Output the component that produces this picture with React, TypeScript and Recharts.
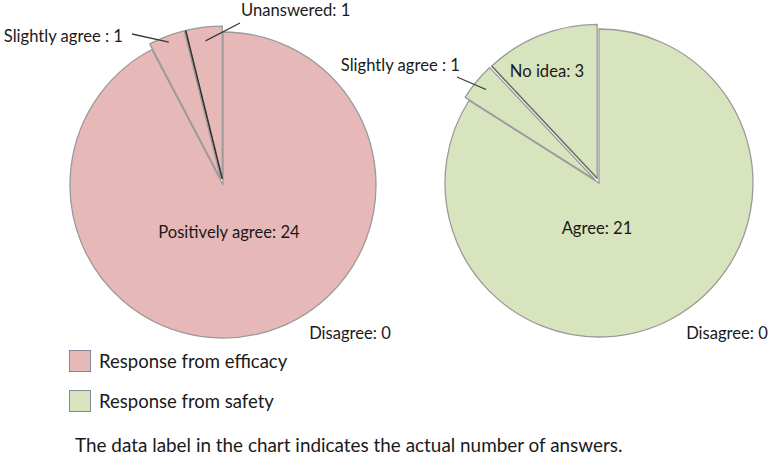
import React from 'react';
import { PieChart, Pie, Cell, Sector, Legend } from 'recharts';

// ---------- data ----------
const efficacyNames = ['Positively agree', 'Disagree', 'Slightly agree ', 'Unanswered'];
const efficacyValues = [24, 0, 1, 1];
const safetyNames = ['Agree', 'Disagree', 'Slightly agree ', 'No idea'];
const safetyValues = [21, 0, 1, 3];
const seriesNames = ['Response from efficacy', 'Response from safety'];
const footnote = 'The data label in the chart indicates the actual number of answers.';

const efficacyData = efficacyNames.map((name, i) => ({ name, value: efficacyValues[i] }));
const safetyData = safetyNames.map((name, i) => ({ name, value: safetyValues[i] }));

// ---------- style ----------
const COLORS = ['#e6b9b8', '#d7e4bd'];
const STROKE = '#9a9a9a';
const FONT = 'Lato, "Open Sans", sans-serif';
const TEXT = '#1a1a1a';
const RAD = Math.PI / 180;

const efficacyExplode = [0, 0, 6, 6];
const safetyExplode = [0, 0, 5, 5];
// slices whose start edge is drawn as a dark line
const efficacyDarkEdge = [false, false, false, true];
const safetyDarkEdge = [false, false, false, true];

type LabelLayout = {
  dx: number;
  dy: number;
  anchor: 'start' | 'middle' | 'end';
  leader?: { sx: number; sy: number; f: number };
};

const efficacyLabels: LabelLayout[] = [
  { dx: 6, dy: 47, anchor: 'middle' },
  { dx: 127, dy: 148, anchor: 'middle' },
  { dx: -100, dy: -149, anchor: 'end', leader: { sx: -91, sy: -151, f: 0.96 } },
  { dx: 18, dy: -175, anchor: 'start', leader: { sx: 17, sy: -162, f: 0.91 } },
];
const safetyLabels: LabelLayout[] = [
  { dx: -2, dy: 45, anchor: 'middle' },
  { dx: 128, dy: 150, anchor: 'middle' },
  { dx: -139, dy: -118, anchor: 'end', leader: { sx: -142, sy: -106, f: 0.92 } },
  { dx: -52, dy: -112, anchor: 'middle' },
];

const makeShape = (names: string[], explode: number[], darkEdge: boolean[], darkColor: string) => (props: any) => {
  const { cx, cy, startAngle, endAngle, outerRadius } = props;
  if (startAngle === endAngle) return <g />;
  const nm = props.payload?.name ?? props.name;
  const idx = names.indexOf(nm);
  const off = idx >= 0 ? explode[idx] : 0;
  const mid = (startAngle + endAngle) / 2;
  const ncx = cx + off * Math.cos(-mid * RAD);
  const ncy = cy + off * Math.sin(-mid * RAD);
  return (
    <g>
      <Sector {...props} cx={ncx} cy={ncy} />
      {idx >= 0 && darkEdge[idx] ? (
        <line
          x1={ncx}
          y1={ncy}
          x2={ncx + outerRadius * Math.cos(-startAngle * RAD)}
          y2={ncy + outerRadius * Math.sin(-startAngle * RAD)}
          stroke={darkColor}
          strokeWidth={1.5}
        />
      ) : null}
    </g>
  );
};

const makeLabel = (names: string[], layout: LabelLayout[], explode: number[]) => (props: any) => {
  const { cx, cy, outerRadius, startAngle, endAngle, value } = props;
  const nm = props.payload?.name ?? props.name;
  const idx = names.indexOf(nm);
  if (idx < 0) return <g />;
  const l = layout[idx];
  const mid = props.midAngle ?? (startAngle + endAngle) / 2;
  let line = null;
  if (l.leader) {
    const r = outerRadius * l.leader.f + explode[idx];
    const ex = cx + r * Math.cos(-mid * RAD);
    const ey = cy + r * Math.sin(-mid * RAD);
    line = (
      <line x1={cx + l.leader.sx} y1={cy + l.leader.sy} x2={ex} y2={ey} stroke="#3a3a3a" strokeWidth={1.3} />
    );
  }
  return (
    <g>
      {line}
      <text
        x={cx + l.dx}
        y={cy + l.dy}
        textAnchor={l.anchor}
        dominantBaseline="central"
        fill={TEXT}
        fontFamily={FONT}
        fontSize={16.6}
        style={{ whiteSpace: 'pre' }}
      >
        {`${nm}: ${value}`}
      </text>
    </g>
  );
};

const LegendContent = () => (
  <div style={{ fontFamily: FONT, color: TEXT, fontSize: 18.5 }}>
    {seriesNames.map((s, i) => (
      <div key={s} style={{ display: 'flex', alignItems: 'center', height: 40 }}>
        <span
          style={{
            display: 'inline-block',
            width: 20,
            height: 20,
            background: COLORS[i],
            border: '1.5px solid #80859a',
            marginRight: 8,
          }}
        />
        <span>{s}</span>
      </div>
    ))}
  </div>
);

export default function App() {
  const effShape = makeShape(efficacyNames, efficacyExplode, efficacyDarkEdge, '#3a2e2e');
  const safShape = makeShape(safetyNames, safetyExplode, safetyDarkEdge, '#6f7466');
  return (
    <div style={{ position: 'absolute', left: 0, top: 0, width: 771, height: 460, background: '#fff' }}>
      <PieChart width={771} height={460} margin={{ top: 0, right: 0, bottom: 0, left: 0 }}>
        <Pie
          data={efficacyData}
          dataKey="value"
          nameKey="name"
          cx={223}
          cy={185}
          outerRadius={153}
          startAngle={90}
          endAngle={-270}
          fill={COLORS[0]}
          stroke={STROKE}
          strokeWidth={1.3}
          isAnimationActive={false}
          labelLine={false}
          label={makeLabel(efficacyNames, efficacyLabels, efficacyExplode)}
          shape={effShape}
          activeShape={effShape}
          inactiveShape={effShape}
        >
          {efficacyData.map((d) => (
            <Cell key={d.name} fill={COLORS[0]} />
          ))}
        </Pie>
        <Pie
          data={safetyData}
          dataKey="value"
          nameKey="name"
          cx={599}
          cy={183}
          outerRadius={154}
          startAngle={90}
          endAngle={-270}
          fill={COLORS[1]}
          stroke={STROKE}
          strokeWidth={1.3}
          isAnimationActive={false}
          labelLine={false}
          label={makeLabel(safetyNames, safetyLabels, safetyExplode)}
          shape={safShape}
          activeShape={safShape}
          inactiveShape={safShape}
        >
          {safetyData.map((d) => (
            <Cell key={d.name} fill={COLORS[1]} />
          ))}
        </Pie>
        <Legend
          content={<LegendContent />}
          wrapperStyle={{ position: 'absolute', left: 69, top: 341, width: 320, height: 80 }}
        />
      </PieChart>
      <div
        style={{
          position: 'absolute',
          left: 75,
          top: 433,
          fontFamily: FONT,
          fontSize: 18.9,
          color: TEXT,
          whiteSpace: 'nowrap',
        }}
      >
        {footnote}
      </div>
    </div>
  );
}
